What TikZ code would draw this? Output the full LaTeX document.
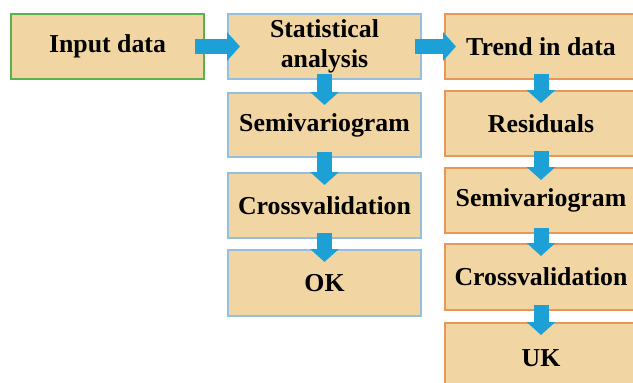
\documentclass[tikz,border=0pt]{standalone}
\usepackage{fontspec}
\setmainfont{Liberation Serif}
\usetikzlibrary{arrows.meta,calc}
\definecolor{boxfill}{RGB}{241,214,163}
\definecolor{greenline}{RGB}{88,178,78}
\definecolor{blueline}{RGB}{150,190,225}
\definecolor{orangeline}{RGB}{234,150,88}
\definecolor{arrowblue}{RGB}{28,160,214}
\begin{document}
\begin{tikzpicture}[x=1pt,y=-1pt,
  box/.style={draw, line width=2pt, fill=boxfill, minimum width=193pt,
    minimum height=65pt, inner sep=0pt, anchor=north west, align=center,
    font=\fontsize{25.8}{29.5}\selectfont\bfseries},
  gbox/.style={box, draw=greenline},
  bbox/.style={box, draw=blueline},
  obox/.style={box, draw=orangeline},
  flow/.style={draw=arrowblue, line width=15pt,
    -{Triangle[width=28pt,length=13pt,fill=arrowblue]}}]
\path[use as bounding box] (0,0) rectangle (633,383);
\clip (0,0) rectangle (633,383);
\fill[white] (0,0) rectangle (633,383);
% left part
\node[gbox] (inp) at (10,13) {Input data};
\node[bbox] (stat) at (227,13) {Statistical\\analysis};
\node[bbox, minimum height=64pt] (sv1) at (227,92) {Semivariogram};
\node[bbox] (cv1) at (227,172) {Crossvalidation};
\node[bbox, minimum height=66pt] (ok) at (227,249) {OK};
% right column
\node[obox, minimum width=192pt] (trend) at (444,13) {Trend in data};
\node[obox, minimum width=192pt] (res) at (444,90) {Residuals};
\node[obox, minimum width=192pt] (sv2) at (444,167) {Semivariogram};
\node[obox, minimum width=192pt, minimum height=66pt] (cv2) at (444,243) {Crossvalidation};
\node[obox, minimum width=192pt, minimum height=70pt] (uk) at (444,322) {\raisebox{-3pt}{UK}};
% arrows
\draw[flow] ($(inp.east)+(-10,0)$) -- ($(stat.west)+(13,0)$);
\draw[flow] ($(stat.east)+(-7,0)$) -- ($(trend.west)+(12,0)$);
\draw[flow] ($(stat.south)+(0,-6)$) -- ($(sv1.north)+(0,13)$);
\draw[flow] ($(sv1.south)+(0,-6)$) -- ($(cv1.north)+(0,13)$);
\draw[flow] ($(cv1.south)+(0,-6)$) -- ($(ok.north)+(0,13)$);
\draw[flow] ($(trend.south)+(0,-6)$) -- ($(res.north)+(0,13)$);
\draw[flow] ($(res.south)+(0,-6)$) -- ($(sv2.north)+(0,13)$);
\draw[flow] ($(sv2.south)+(0,-6)$) -- ($(cv2.north)+(0,13)$);
\draw[flow] ($(cv2.south)+(0,-6)$) -- ($(uk.north)+(0,13)$);
\end{tikzpicture}
\end{document}
